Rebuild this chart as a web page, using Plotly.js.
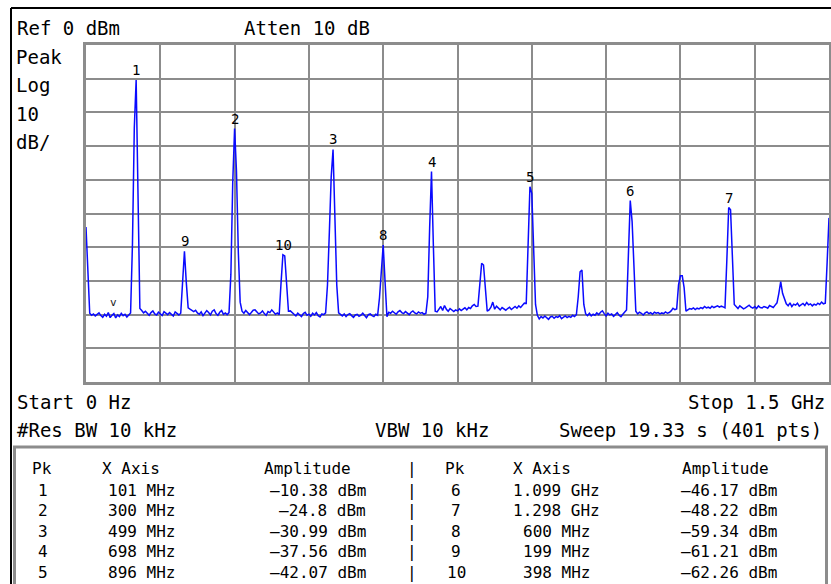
<!DOCTYPE html>
<html>
<head>
<meta charset="utf-8">
<script src="https://cdn.plot.ly/plotly-3.0.1.min.js"></script>
<style>
  html, body { margin: 0; padding: 0; background: #ffffff; }
  #chart { width: 831px; height: 584px; }
</style>
</head>
<body>
<div id="chart"></div>
<script>
// ---- Sweep settings (from the screen text) ----
const startHz = 0;
const stopMHz = 1500;
const sweepPoints = 401;
const refLevelDbm = 0;
const dbPerDiv = 10;

// ---- Trace amplitudes (dBm), in sweep order ----
const segStart   = [-54.0, -67.0];
const noise1     = [-79.6, -80.2, -79.8, -80.4, -80.0, -79.5, -80.3, -80.8, -79.9, -80.5, -79.4, -80.9, -80.2, -79.7, -81.0, -80.1, -80.6, -79.6, -80.3, -79.9, -80.7, -80.0, -79.5];
const peak1      = [-59.3, -24.6, -10.38, -44.0];
const noise2     = [-78.2, -78.8, -79.5, -79.0, -79.6, -80.2, -79.4, -78.9, -79.8, -80.1, -79.3, -79.7, -80.3, -79.1, -79.6, -80.0, -79.4, -79.9, -80.4, -79.2, -79.7, -80.1, -79.6];
const peak9      = [-71.0, -61.21, -70.5];
const noise3     = [-78.0, -78.4, -78.9, -79.1, -78.7, -79.5, -79.9, -79.2, -80.3, -79.6, -78.8, -79.4, -80.1, -79.0, -78.6, -79.7, -80.2, -79.3, -78.8, -79.9, -79.5, -80.0, -79.4];
const peak2      = [-68.0, -40.7, -24.8, -37.4, -61.4];
const noise4     = [-76.3, -79.0, -79.6, -78.8, -79.3, -80.0, -79.4, -78.7, -78.6, -79.2, -79.8, -79.5, -78.9, -79.7, -80.2, -79.1, -79.4, -78.6, -79.3, -79.9, -79.5, -80.0];
const peak10     = [-70.6, -62.26, -62.6, -70.8];
const noise5     = [-79.0, -78.9, -79.5, -79.8, -80.4, -79.6, -80.0, -80.6, -79.7, -79.3, -80.2, -79.9, -80.5, -79.6, -80.1, -79.4, -80.3, -80.7, -79.8, -80.0, -79.5];
const peak3      = [-71.2, -55.7, -39.2, -30.99, -48.0, -71.2];
const noise6     = [-79.5, -80.1, -80.4, -79.8, -80.6, -80.0, -79.7, -80.3, -80.8, -80.1, -79.9, -80.5, -80.2, -79.6, -80.4, -80.9, -80.0, -79.8, -80.3, -80.6, -79.9, -80.2];
const peak8      = [-75.0, -65.3, -59.34, -70.2];
const noise7     = [-80.6, -79.3, -79.6, -79.0, -79.5, -79.9, -79.2, -78.8, -79.4, -79.7, -79.1, -79.6, -80.0, -79.3, -78.9, -79.5, -79.8, -79.2, -79.6, -79.4, -79.9, -79.6];
const peak4      = [-74.7, -54.4, -37.56, -59.3];
const noise8     = [-79.0, -79.2, -78.5, -77.6, -78.8, -77.3, -78.4, -79.0, -78.2, -78.7, -79.1, -78.6, -78.9, -78.3, -78.8, -78.4, -78.0, -78.6, -77.9, -78.2, -77.4, -77.0, -77.6];
const spur800    = [-77.5, -71.2, -64.8, -65.3, -73.6];
const noise9     = [-79.0, -78.6, -77.8, -76.3, -78.4, -77.5, -78.0, -78.6, -77.9, -78.3, -78.7, -78.2, -77.8, -78.5, -78.0, -77.6, -78.1, -77.4, -77.9, -77.2, -76.6];
const peak5      = [-76.7, -59.0, -42.07, -44.0, -59.0];
const noise10    = [-77.0, -80.2, -81.3, -80.6, -81.0, -80.4, -80.9, -81.4, -80.7, -80.5, -81.1, -80.6, -80.8, -80.3, -81.2, -80.7, -80.4, -80.9, -80.5, -80.8, -80.2, -80.6, -80.0];
const spur1000   = [-74.7, -67.3, -66.8, -77.0];
const noise11    = [-79.8, -80.3, -79.6, -80.4, -79.9, -80.2, -79.5, -80.0, -79.3, -78.9, -79.7, -80.4, -79.6, -80.1, -79.8, -80.5, -80.0, -79.4, -80.2, -80.6, -79.9, -79.2, -78.6];
const peak6      = [-62.3, -46.17, -52.4, -65.3];
const noise12    = [-79.0, -79.8, -79.3, -79.6, -80.1, -79.5, -79.2, -79.7, -79.4, -79.9, -79.3, -79.6, -79.4, -79.8, -79.5, -79.7, -79.2, -79.6, -79.4, -78.9, -78.1, -78.5, -78.3];
const spur1200   = [-71.2, -68.5, -68.5, -72.0];
const noise13    = [-79.0, -78.6, -78.2, -78.4, -78.0, -78.5, -78.1, -78.3, -77.9, -78.2, -77.6, -78.0, -77.8, -78.1, -77.5, -77.9, -77.6, -77.4, -77.8, -77.5, -77.7, -78.0];
const peak7      = [-63.8, -48.22, -48.9, -63.8];
const noise14    = [-77.0, -77.6, -78.2, -77.4, -77.9, -78.3, -78.0, -77.5, -77.2, -77.8, -78.1, -77.6, -78.2, -77.4, -77.9, -78.0, -77.6, -77.8, -78.1, -77.3, -77.6, -77.9, -77.2, -76.5];
const spur1400   = [-73.7, -70.2, -73.7];
const noise15    = [-75.5, -76.8, -77.4, -76.5, -77.6, -76.9, -77.2, -76.6, -77.5, -77.0, -76.7, -77.3, -76.4, -77.1, -76.8, -77.4, -76.9, -77.2, -76.6, -77.0, -76.3, -76.8, -76.6];
const segEnd     = [-64.5, -51.3];

// ---- Marker table ----
const markerNum  = [1, 2, 3, 4, 5, 6, 7, 8, 9, 10];
const markerMHz  = [101, 300, 499, 698, 896, 1099, 1298, 600, 199, 398];
const markerDbm  = [-10.38, -24.8, -30.99, -37.56, -42.07, -46.17, -48.22, -59.34, -61.21, -62.26];
const markerFreqText = ["101 MHz", "300 MHz", "499 MHz", "698 MHz", "896 MHz", "1.099 GHz", "1.298 GHz", "600 MHz", "199 MHz", "398 MHz"];
const markerAmpText  = ["–10.38 dBm", "–24.8 dBm", "–30.99 dBm", "–37.56 dBm", "–42.07 dBm", "–46.17 dBm", "–48.22 dBm", "–59.34 dBm", "–61.21 dBm", "–62.26 dBm"];
const caretMarker = { mhz: 56, dbm: -76.5 };

// ---- Screen texts ----
const txtRef = "Ref 0 dBm";
const txtAtten = "Atten 10 dB";
const txtLeft = ["Peak", "Log", "10", "dB/"];
const txtStart = "Start 0 Hz";
const txtStop = "Stop 1.5 GHz";
const txtRbw = "#Res BW 10 kHz";
const txtVbw = "VBW 10 kHz";
const txtSweep = "Sweep 19.33 s (401 pts)";
const tableHead = ["Pk", "X Axis", "Amplitude"];

// ---- Build trace ----
const amplitude = [].concat(segStart, noise1, peak1, noise2, peak9, noise3, peak2, noise4, peak10, noise5,
  peak3, noise6, peak8, noise7, peak4, noise8, spur800, noise9, peak5, noise10, spur1000, noise11,
  peak6, noise12, spur1200, noise13, peak7, noise14, spur1400, noise15, segEnd);
const freq = amplitude.map((_, i) => startHz / 1e6 + i * (stopMHz - startHz / 1e6) / (sweepPoints - 1));

// ---- Pixel helpers for layout placement ----
const PL = 86, PR = 829, PT = 45, PB = 382;
const px = x => (x - PL) / (PR - PL);
const py = y => (PB - y) / (PB - PT);
const MONO = "DejaVu Sans Mono, Liberation Mono, monospace";

const annotations = [];
function txt(text, x, y, xanchor, size, extra) {
  annotations.push(Object.assign({
    text: text, xref: "paper", yref: "paper", x: px(x), y: py(y),
    xanchor: xanchor, yanchor: "middle", showarrow: false,
    font: { family: MONO, size: size, color: "#000000" }
  }, extra || {}));
}

const HS = 19;
txt(txtRef, 15, 28, "left", HS);
txt(txtAtten, 242, 28, "left", HS);
const leftY = [57, 85, 114, 142];
txtLeft.forEach((t, k) => txt(t, 14, leftY[k], "left", HS));
txt(txtStart, 15, 402, "left", HS);
txt(txtStop, 827, 402, "right", HS);
txt(txtRbw, 15, 430, "left", HS);
txt(txtVbw, 432, 430, "center", HS);
txt(txtSweep, 824, 430, "right", HS);

// table
const TS = 16;
const headY = 468;
txt(tableHead[0], 42, headY, "center", TS);
txt(tableHead[1], 131, headY, "center", TS);
txt(tableHead[2], 307, headY, "center", TS);
txt("|", 412, headY, "center", TS);
txt(tableHead[0], 455, headY, "center", TS);
txt(tableHead[1], 542, headY, "center", TS);
txt(tableHead[2], 725, headY, "center", TS);
for (let k = 0; k < 5; k++) {
  const y = 490 + k * 20.5;
  const a = k, b = k + 5;
  txt(String(markerNum[a]), 43, y, "center", TS);
  txt(markerFreqText[a], 141, y, "center", TS);
  txt(markerAmpText[a], 368, y, "right", TS);
  txt("|", 412, y, "center", TS);
  txt(String(markerNum[b]), 456, y, "center", TS);
  txt(markerFreqText[b], 556, y, "center", TS);
  txt(markerAmpText[b], 779, y, "right", TS);
}

// peak number labels
markerNum.forEach((n, k) => {
  annotations.push({
    text: String(n), xref: "x", yref: "y", x: markerMHz[k], y: markerDbm[k],
    xanchor: "center", yanchor: "bottom", yshift: 0, showarrow: false,
    font: { family: MONO, size: 14, color: "#000000" }
  });
});
annotations.push({
  text: "v", xref: "x", yref: "y", x: caretMarker.mhz, y: caretMarker.dbm,
  xanchor: "center", yanchor: "middle", showarrow: false,
  font: { family: MONO, size: 11, color: "#222222" }
});

const shapes = [
  // outer black frame
  { type: "line", xref: "paper", yref: "paper", x0: px(11), x1: px(832), y0: py(8), y1: py(8), line: { color: "#000000", width: 2 } },
  { type: "line", xref: "paper", yref: "paper", x0: px(11), x1: px(11), y0: py(8), y1: py(590), line: { color: "#000000", width: 2 } },
  // marker table box
  { type: "rect", xref: "paper", yref: "paper", x0: px(14.5), x1: px(826.5), y0: py(447), y1: py(592), line: { color: "#8c8c8c", width: 3 } }
];

const data = [{
  type: "scatter", mode: "lines", x: freq, y: amplitude,
  line: { color: "#0a0aff", width: 1.5 }, hoverinfo: "skip"
}];

const axisCommon = {
  showticklabels: false, ticks: "", showgrid: true, gridcolor: "#8c8c8c", gridwidth: 2,
  showline: true, linecolor: "#8c8c8c", linewidth: 3, mirror: true, zeroline: false, fixedrange: true
};

const layout = {
  width: 831, height: 584,
  margin: { l: PL, r: 831 - PR, t: PT, b: 584 - PB, pad: 0 },
  paper_bgcolor: "#ffffff", plot_bgcolor: "#ffffff",
  showlegend: false,
  xaxis: Object.assign({ range: [startHz / 1e6, stopMHz], tick0: 0, dtick: stopMHz / 10 }, axisCommon),
  yaxis: Object.assign({ range: [refLevelDbm - 10 * dbPerDiv, refLevelDbm], tick0: 0, dtick: dbPerDiv }, axisCommon),
  annotations: annotations,
  shapes: shapes
};

Plotly.newPlot("chart", data, layout, { displayModeBar: false, staticPlot: true });
</script>
</body>
</html>
